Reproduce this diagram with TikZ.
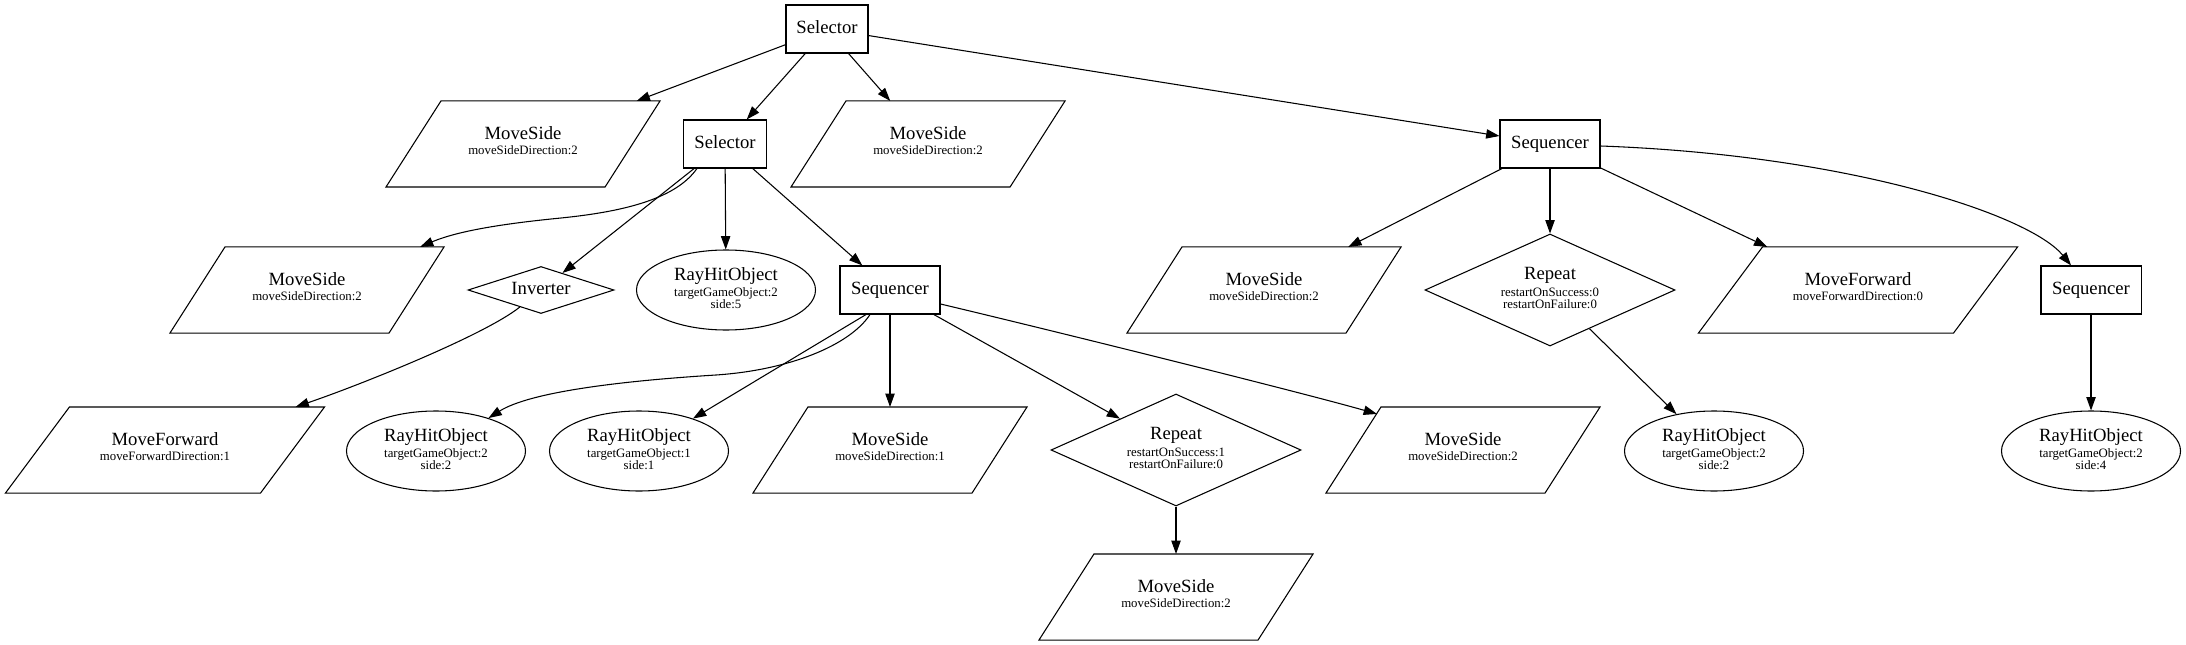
\documentclass[tikz,border=0pt]{standalone}
\usepackage{fontspec}
\setmainfont{Liberation Serif}
\usetikzlibrary{shapes.geometric,arrows.meta,calc}
\newcommand\nodetitle[1]{{\fontsize{14}{14}\selectfont #1}}
\begin{document}
\begin{tikzpicture}[x=0.75pt,y=-0.75pt,
  every node/.style={inner sep=0pt, line width=0.8pt},
  sub/.style={font=\fontsize{9.6}{9}\selectfont, align=center},
  boxn/.style={draw, rectangle, minimum height=36pt, minimum width=75pt,
    font=\fontsize{14}{14}\selectfont, text height=10pt, text depth=3pt},
  parl/.style={sub, rectangle, minimum width=204.75pt, minimum height=63.75pt, text depth=5pt},
  parlw/.style={parl, minimum width=238.5pt},
  ell/.style={sub, draw, ellipse, minimum width=134.25pt, minimum height=60pt, text depth=3pt},
  dia/.style={sub, draw, diamond, aspect=2.23, minimum width=187.5pt, minimum height=84pt, text depth=3pt},
  diasm/.style={draw, diamond, aspect=3.1, minimum width=109.5pt, minimum height=35.25pt,
    font=\fontsize{14}{14}\selectfont, text height=10pt, text depth=3pt},
  edge/.style={line width=0.8pt, -{Triangle[length=10pt,width=7pt]}},
]
\useasboundingbox (0,0) rectangle (2186,645);

% level 0
\node[boxn, minimum width=61.5pt] (root) at (827,29) {Selector};
% level 1
\node[parl] (msA) at (523,144) {\nodetitle{MoveSide}\\[2pt]moveSideDirection:2};
\node[boxn, minimum width=62.25pt] (sel2) at (725,144) {Selector};
\node[parl] (msB) at (928,144) {\nodetitle{MoveSide}\\[2pt]moveSideDirection:2};
\node[boxn] (seqM) at (1550,144) {Sequencer};
% level 2
\node[parl] (msC) at (307,290) {\nodetitle{MoveSide}\\[2pt]moveSideDirection:2};
\node[diasm] (inv) at (541,290) {Inverter};
\node[ell] (rh5) at (726,290) {\nodetitle{RayHitObject}\\[2pt]targetGameObject:2\\side:5};
\node[boxn] (seq2) at (890,290) {Sequencer};
\node[parl] (msD) at (1264,290) {\nodetitle{MoveSide}\\[2pt]moveSideDirection:2};
\node[dia] (rep0) at (1550,290) {\nodetitle{Repeat}\\[2pt]restartOnSuccess:0\\restartOnFailure:0};
\node[parlw] (mf0) at (1858,290) {\nodetitle{MoveForward}\\[2pt]moveForwardDirection:0};
\node[boxn] (seqR) at (2091,290) {Sequencer};
% level 3
\node[parlw] (mf1) at (165,450) {\nodetitle{MoveForward}\\[2pt]moveForwardDirection:1};
\node[ell] (rh22) at (436,451) {\nodetitle{RayHitObject}\\[2pt]targetGameObject:2\\side:2};
\node[ell] (rh11) at (639,451) {\nodetitle{RayHitObject}\\[2pt]targetGameObject:1\\side:1};
\node[parl] (ms1) at (890,450) {\nodetitle{MoveSide}\\[2pt]moveSideDirection:1};
\node[dia] (rep1) at (1176,450) {\nodetitle{Repeat}\\[2pt]restartOnSuccess:1\\restartOnFailure:0};
\node[parl] (ms2) at (1463,450) {\nodetitle{MoveSide}\\[2pt]moveSideDirection:2};
\node[ell] (rhR) at (1714,451) {\nodetitle{RayHitObject}\\[2pt]targetGameObject:2\\side:2};
\node[ell] (rh4) at (2091,451) {\nodetitle{RayHitObject}\\[2pt]targetGameObject:2\\side:4};
% level 4
\node[parl] (ms4) at (1176,597) {\nodetitle{MoveSide}\\[2pt]moveSideDirection:2};

% parallelogram outlines
\foreach \n/\s in {msA/55,msB/55,msC/55,msD/55,ms1/55,ms2/55,ms4/55,mf0/64,mf1/64}
  \draw[line width=0.8pt] (\n.south west) -- ($(\n.north west)+(\s,0)$) -- (\n.north east)
    -- ($(\n.south east)+(-\s,0)$) -- cycle;

% edges
\draw[edge] (root) -- (msA);
\draw[edge] (root) -- (sel2);
\draw[edge] (root) -- (msB);
\draw[edge] (root) -- (seqM);

\draw[edge] ($(sel2.south west)+(14,0)$) .. controls (675,200) and (620,212) .. (561,218)
  .. controls (510,223) and (460,230) .. ($(msC.north east)+(-24,0)$);
\draw[edge] (sel2) -- (inv);
\draw[edge] (sel2) -- (rh5);
\draw[edge] (sel2) -- (seq2);

\draw[edge] (inv) .. controls (485,335) and (360,385) .. ($(mf1.north east)+(-29,0)$);

\draw[edge] ($(seq2.south)+(-20,0)$) .. controls (850,345) and (790,370) .. (716,375)
  .. controls (620,381) and (530,392) .. (rh22);
\draw[edge] ($(seq2.south)+(-24,0)$) -- (rh11);
\draw[edge] (seq2) -- (ms1);
\draw[edge] (seq2) -- (rep1);
\draw[edge] ($(seq2.east)+(0,14)$) .. controls (1050,330) and (1300,392) .. ($(ms2.north west)+(51,7)$);

\draw[edge] (rep1) -- (ms4);

\draw[edge] (seqM) -- (msD);
\draw[edge] (seqM) -- (rep0);
\draw[edge] (seqM) -- (mf0);
\draw[edge] ($(seqM.east)+(0,2)$) .. controls (1850,155) and (2030,215) .. (seqR);

\draw[edge] (rep0) -- (rhR);
\draw[edge] (seqR) -- (rh4);
\end{tikzpicture}
\end{document}
